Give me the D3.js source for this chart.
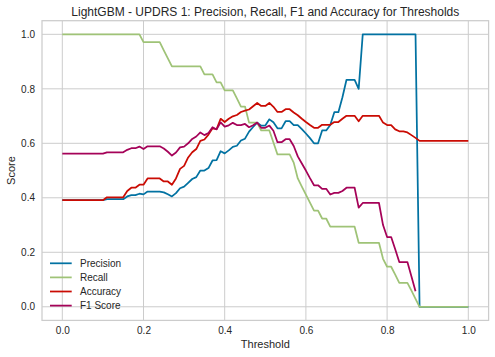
<!DOCTYPE html>
<html>
<head>
<meta charset="utf-8">
<script src="https://cdn.jsdelivr.net/npm/d3@7"></script>
<style>
  html, body { margin: 0; padding: 0; background: #fff; }
  svg { display: block; font-family: "Liberation Sans", Arial, sans-serif; }
</style>
</head>
<body>
<svg id="chart" width="495" height="357"></svg>
<script>
const thresholds = [
  0.00,0.01,0.02,0.03,0.04,0.05,0.06,0.07,0.08,0.09,
  0.10,0.11,0.12,0.13,0.14,0.15,0.16,0.17,0.18,0.19,
  0.20,0.21,0.22,0.23,0.24,0.25,0.26,0.27,0.28,0.29,
  0.30,0.31,0.32,0.33,0.34,0.35,0.36,0.37,0.38,0.39,
  0.40,0.41,0.42,0.43,0.44,0.45,0.46,0.47,0.48,0.49,
  0.50,0.51,0.52,0.53,0.54,0.55,0.56,0.57,0.58,0.59,
  0.60,0.61,0.62,0.63,0.64,0.65,0.66,0.67,0.68,0.69,
  0.70,0.71,0.72,0.73,0.74,0.75,0.76,0.77,0.78,0.79,
  0.80,0.81,0.82,0.83,0.84,0.85,0.86,0.87,0.88,0.89,
  0.90,0.91,0.92,0.93,0.94,0.95,0.96,0.97,0.98,0.99,
  1.00
];

const precision = [
  0.391,0.391,0.391,0.391,0.391,0.391,0.391,0.391,0.391,0.391,
  0.391,0.395,0.395,0.395,0.395,0.395,0.405,0.410,0.410,0.415,
  0.4125,0.423,0.423,0.423,0.423,0.420,0.413,0.405,0.417,0.435,
  0.441,0.455,0.469,0.476,0.500,0.500,0.509,0.537,0.538,0.571,
  0.563,0.574,0.587,0.591,0.610,0.617,0.643,0.660,0.676,0.665,
  0.665,0.688,0.677,0.655,0.655,0.681,0.681,0.667,0.667,0.652,
  0.636,0.619,0.600,0.600,0.647,0.647,0.667,0.714,0.714,0.769,
  0.833,0.833,0.833,0.800,1.0,1.0,1.0,1.0,1.0,1.0,
  1.0,1.0,1.0,1.0,1.0,1.0,1.0,1.0,0,0,
  0,0,0,0,0,0,0,0,0,0,
  0
];

const recall = [
  1.0,1.0,1.0,1.0,1.0,1.0,1.0,1.0,1.0,1.0,
  1.0,1.0,1.0,1.0,1.0,1.0,1.0,1.0,1.0,1.0,
  0.971,0.971,0.971,0.971,0.971,0.941,0.912,0.882,0.882,0.882,
  0.882,0.882,0.882,0.882,0.882,0.853,0.853,0.853,0.824,0.824,
  0.794,0.794,0.794,0.765,0.735,0.735,0.676,0.676,0.676,0.647,
  0.647,0.647,0.603,0.559,0.559,0.559,0.559,0.529,0.471,0.441,
  0.412,0.382,0.353,0.353,0.324,0.324,0.294,0.294,0.294,0.294,
  0.294,0.294,0.294,0.235,0.235,0.235,0.235,0.235,0.235,0.176,
  0.147,0.147,0.118,0.088,0.088,0.088,0.059,0.029,0,0,
  0,0,0,0,0,0,0,0,0,0,
  0
];

const accuracy = [
  0.391,0.391,0.391,0.391,0.391,0.391,0.391,0.391,0.391,0.391,
  0.391,0.402,0.402,0.402,0.402,0.402,0.425,0.437,0.437,0.448,
  0.448,0.471,0.471,0.471,0.471,0.460,0.460,0.448,0.471,0.506,
  0.517,0.548,0.567,0.579,0.609,0.614,0.632,0.655,0.652,0.690,
  0.678,0.690,0.699,0.704,0.715,0.720,0.724,0.736,0.748,0.737,
  0.737,0.748,0.734,0.715,0.715,0.725,0.725,0.713,0.703,0.690,
  0.678,0.667,0.657,0.657,0.668,0.668,0.668,0.678,0.678,0.690,
  0.701,0.701,0.701,0.681,0.701,0.701,0.701,0.701,0.701,0.676,
  0.667,0.667,0.651,0.644,0.644,0.640,0.630,0.620,0.609,0.609,
  0.609,0.609,0.609,0.609,0.609,0.609,0.609,0.609,0.609,0.609,
  0.609
];

const f1 = [
  0.562,0.562,0.562,0.562,0.562,0.562,0.562,0.562,0.562,0.562,
  0.562,0.567,0.567,0.567,0.567,0.567,0.576,0.582,0.582,0.588,
  0.579,0.589,0.589,0.589,0.589,0.581,0.569,0.555,0.566,0.585,
  0.588,0.600,0.616,0.625,0.640,0.630,0.638,0.659,0.651,0.677,
  0.661,0.666,0.675,0.667,0.667,0.671,0.659,0.666,0.676,0.657,
  0.657,0.665,0.646,0.604,0.604,0.615,0.615,0.590,0.552,0.526,
  0.500,0.472,0.446,0.446,0.433,0.433,0.412,0.418,0.418,0.425,
  0.437,0.437,0.437,0.364,0.381,0.381,0.381,0.381,0.381,0.300,
  0.256,0.256,0.211,0.164,0.164,0.164,0.111,0.057,null,null,
  null,null,null,null,null,null,null,null,null,null,
  null
];

const seriesNames = ["Precision", "Recall", "Accuracy", "F1 Score"];
const seriesColors = ["#0272a2", "#9fc377", "#ca0b03", "#a50258"];
const seriesValues = [precision, recall, accuracy, f1];
const xTicks = [0.0, 0.2, 0.4, 0.6, 0.8, 1.0];
const yTicks = [0.0, 0.2, 0.4, 0.6, 0.8, 1.0];
const titleText = "LightGBM - UPDRS 1: Precision, Recall, F1 and Accuracy for Thresholds";

const svg = d3.select("#chart");
const L = 42, R = 488.6, T = 20.7, B = 320.4;
const x = d3.scaleLinear().domain([-0.05, 1.05]).range([L, R]);
const y = d3.scaleLinear().domain([-0.05, 1.05]).range([B, T]);
const ink = "#262626";

// grid
const grid = svg.append("g");
grid.selectAll("line.vx").data(xTicks).enter().append("line")
  .attr("x1", d => x(d)).attr("x2", d => x(d)).attr("y1", T).attr("y2", B)
  .attr("stroke", "#cccccc").attr("stroke-width", 1);
grid.selectAll("line.hy").data(yTicks).enter().append("line")
  .attr("x1", L).attr("x2", R).attr("y1", d => y(d)).attr("y2", d => y(d))
  .attr("stroke", "#cccccc").attr("stroke-width", 1);

// axes (tick labels via d3 axes, no tick marks)
const xAxis = d3.axisBottom(x).tickValues(xTicks).tickFormat(d3.format(".1f")).tickSize(0).tickPadding(7);
const yAxis = d3.axisLeft(y).tickValues(yTicks).tickFormat(d3.format(".1f")).tickSize(0).tickPadding(7);
const gx = svg.append("g").attr("transform", `translate(0,${B})`).call(xAxis);
const gy = svg.append("g").attr("transform", `translate(${L},0)`).call(yAxis);
[gx, gy].forEach(g => {
  g.select(".domain").remove();
  g.selectAll("text").attr("fill", ink).attr("font-size", 10).attr("font-family", "Liberation Sans, Arial, sans-serif");
});

// frame
svg.append("rect").attr("x", L).attr("y", T).attr("width", R - L).attr("height", B - T)
  .attr("fill", "none").attr("stroke", "#cccccc").attr("stroke-width", 1.25);

// lines
const lineGen = vals => d3.line()
  .defined((d, i) => vals[i] !== null)
  .x((d, i) => x(thresholds[i]))
  .y((d, i) => y(vals[i]));

const gl = svg.append("g");
seriesValues.forEach((vals, k) => {
  gl.append("path")
    .datum(thresholds)
    .attr("d", lineGen(vals))
    .attr("fill", "none")
    .attr("stroke", seriesColors[k])
    .attr("stroke-width", 1.75)
    .attr("stroke-linejoin", "round")
    .attr("stroke-linecap", "butt");
});

// title & labels
svg.append("text").attr("x", (L + R) / 2).attr("y", 16).attr("text-anchor", "middle")
  .attr("font-size", 12).attr("fill", ink).text(titleText);
svg.append("text").attr("x", (L + R) / 2).attr("y", 348).attr("text-anchor", "middle")
  .attr("font-size", 11).attr("fill", ink).text("Threshold");
svg.append("text").attr("transform", `translate(15,${(T + B) / 2}) rotate(-90)`).attr("text-anchor", "middle")
  .attr("font-size", 11).attr("fill", ink).text("Score");

// legend
const lg = svg.append("g");
const legY0 = 263.3, legDy = 14.1;
seriesNames.forEach((name, k) => {
  const yy = legY0 + k * legDy;
  lg.append("line").attr("x1", 50).attr("x2", 71.7).attr("y1", yy).attr("y2", yy)
    .attr("stroke", seriesColors[k]).attr("stroke-width", 1.75);
  lg.append("text").attr("x", 80).attr("y", yy + 3.6).attr("font-size", 10)
    .attr("fill", ink).text(name);
});
</script>
</body>
</html>
